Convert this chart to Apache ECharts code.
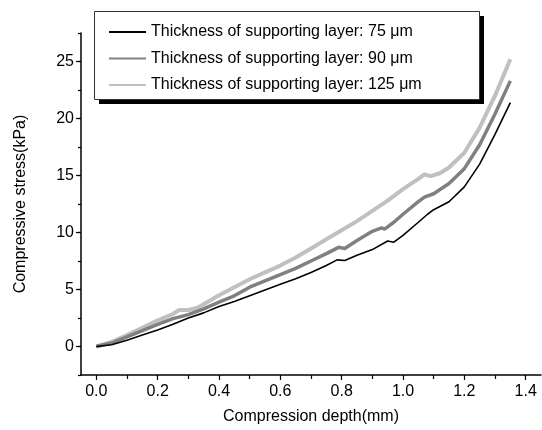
<!DOCTYPE html>
<html>
<head>
<meta charset="utf-8">
<script src="https://cdn.jsdelivr.net/npm/echarts@6/dist/echarts.min.js"></script>
<style>
  html, body { margin: 0; padding: 0; background: #fff; }
  #chart { width: 542px; height: 430px; }
</style>
</head>
<body>
<div id="chart"></div>
<script>
// series names
var names = [
    'Thickness of supporting layer: 75 \u03bcm',
    'Thickness of supporting layer: 90 \u03bcm',
    'Thickness of supporting layer: 125 \u03bcm'
];

// 75 um (black)
var depth75 = [0, 0.05, 0.1, 0.15, 0.2, 0.25, 0.3, 0.35, 0.4, 0.45, 0.5, 0.55, 0.6, 0.65, 0.7, 0.75, 0.785, 0.81, 0.85, 0.9, 0.95, 0.97, 1.0, 1.05, 1.08, 1.1, 1.15, 1.2, 1.25, 1.3, 1.35];
var stress75 = [0, 0.15, 0.55, 1.0, 1.45, 1.95, 2.5, 2.95, 3.5, 3.95, 4.45, 4.95, 5.45, 5.95, 6.5, 7.1, 7.6, 7.55, 8.0, 8.5, 9.25, 9.15, 9.75, 10.9, 11.6, 12.0, 12.7, 14.0, 16.0, 18.6, 21.4];

// 90 um (grey)
var depth90 = [0, 0.05, 0.1, 0.15, 0.2, 0.25, 0.3, 0.35, 0.4, 0.45, 0.5, 0.55, 0.6, 0.65, 0.7, 0.75, 0.79, 0.81, 0.85, 0.9, 0.93, 0.94, 0.97, 1.0, 1.05, 1.07, 1.1, 1.15, 1.2, 1.25, 1.3, 1.35];
var stress90 = [0, 0.3, 0.85, 1.4, 1.95, 2.45, 2.8, 3.3, 3.9, 4.45, 5.2, 5.75, 6.3, 6.85, 7.5, 8.15, 8.7, 8.6, 9.3, 10.1, 10.4, 10.3, 10.9, 11.6, 12.7, 13.1, 13.4, 14.3, 15.6, 17.7, 20.4, 23.3];

// 125 um (light grey)
var depth125 = [0, 0.05, 0.1, 0.15, 0.2, 0.25, 0.27, 0.3, 0.33, 0.35, 0.4, 0.45, 0.5, 0.55, 0.6, 0.65, 0.7, 0.75, 0.8, 0.85, 0.9, 0.95, 1.0, 1.05, 1.07, 1.09, 1.12, 1.15, 1.2, 1.25, 1.3, 1.35];
var stress125 = [0, 0.4, 1.0, 1.65, 2.3, 2.85, 3.2, 3.2, 3.4, 3.7, 4.5, 5.2, 5.9, 6.5, 7.1, 7.8, 8.6, 9.4, 10.2, 11.0, 11.9, 12.8, 13.8, 14.7, 15.1, 14.95, 15.2, 15.7, 17.0, 19.2, 22.0, 25.2];

// tick values
var xMajor = [0, 0.2, 0.4, 0.6, 0.8, 1.0, 1.2, 1.4];
var xMinor = [0.1, 0.3, 0.5, 0.7, 0.9, 1.1, 1.3];
var yMajor = [0, 5, 10, 15, 20, 25];

function pairs(xs, ys) {
    var out = [];
    for (var i = 0; i < xs.length; i++) out.push([xs[i], ys[i]]);
    return out;
}

var font = 'Liberation Sans, Arial, sans-serif';
var myChart = echarts.init(document.getElementById('chart'));

var option = {
    animation: false,
    backgroundColor: '#fff',
    textStyle: { fontFamily: font },
    grid: { left: 81, right: 1, top: 33, bottom: 53 },
    // legend frame with a hard black drop shadow
    graphic: [{
        type: 'rect',
        z: 5,
        shape: { x: 99, y: 16, width: 385, height: 88 },
        style: { fill: '#000' }
    }, {
        type: 'rect',
        z: 6,
        shape: { x: 94.5, y: 11.5, width: 385, height: 88 },
        style: { fill: '#fff', stroke: '#333', lineWidth: 1 }
    }],
    legend: {
        left: 94,
        top: 11,
        z: 10,
        orient: 'vertical',
        data: names,
        itemWidth: 37,
        itemHeight: 16,
        itemGap: 10.5,
        itemTextGap: 9,
        padding: [13, 56, 6, 14],
        itemStyle: { opacity: 0 },
        textStyle: { fontFamily: font, fontSize: 16, color: '#000' }
    },
    xAxis: [{
        type: 'value',
        position: 'bottom',
        min: -0.05,
        max: 1.45,
        name: 'Compression depth(mm)',
        nameLocation: 'middle',
        nameGap: 34,
        nameTextStyle: { fontFamily: font, fontSize: 16, color: '#000' },
        axisLine: { onZero: false, lineStyle: { color: '#000', width: 1.5 } },
        axisTick: { customValues: xMajor, length: 5, lineStyle: { color: '#000', width: 1.2 } },
        axisLabel: {
            customValues: xMajor, margin: 9, fontSize: 16, color: '#000', fontFamily: font,
            formatter: function (v) { return v.toFixed(1); }
        },
        splitLine: { show: false }
    }, {
        type: 'value',
        position: 'bottom',
        min: -0.05,
        max: 1.45,
        axisLine: { show: false, onZero: false },
        axisTick: { customValues: xMinor, length: 4, lineStyle: { color: '#000', width: 1.2 } },
        axisLabel: { show: false },
        splitLine: { show: false }
    }],
    yAxis: [{
        type: 'value',
        position: 'left',
        min: -2.5,
        max: 27.5,
        name: 'Compressive stress(kPa)',
        nameLocation: 'middle',
        nameGap: 52,
        nameTextStyle: { fontFamily: font, fontSize: 16, color: '#000' },
        axisLine: { onZero: false, lineStyle: { color: '#000', width: 1.5 } },
        axisTick: { customValues: yMajor, length: 5, lineStyle: { color: '#000', width: 1.2 } },
        axisLabel: { customValues: yMajor, margin: 7, fontSize: 16, color: '#000', fontFamily: font },
        splitLine: { show: false }
    }, {
        type: 'value',
        position: 'left',
        min: -2.5,
        max: 27.5,
        interval: 2.5,
        axisLine: { show: false, onZero: false },
        axisTick: { length: 3, lineStyle: { color: '#000', width: 1.2 } },
        axisLabel: { show: false },
        splitLine: { show: false }
    }],
    series: [{
        name: names[0],
        type: 'line',
        symbol: 'none',
        lineStyle: { color: '#000', width: 1.6 },
        itemStyle: { color: '#000' },
        data: pairs(depth75, stress75),
        z: 4
    }, {
        name: names[1],
        type: 'line',
        symbol: 'none',
        lineStyle: { color: '#808080', width: 3.5 },
        itemStyle: { color: '#808080' },
        data: pairs(depth90, stress90),
        z: 3
    }, {
        name: names[2],
        type: 'line',
        symbol: 'none',
        lineStyle: { color: '#c0c0c0', width: 4 },
        itemStyle: { color: '#c0c0c0' },
        data: pairs(depth125, stress125),
        z: 2
    }]
};

myChart.setOption(option);
</script>
</body>
</html>
